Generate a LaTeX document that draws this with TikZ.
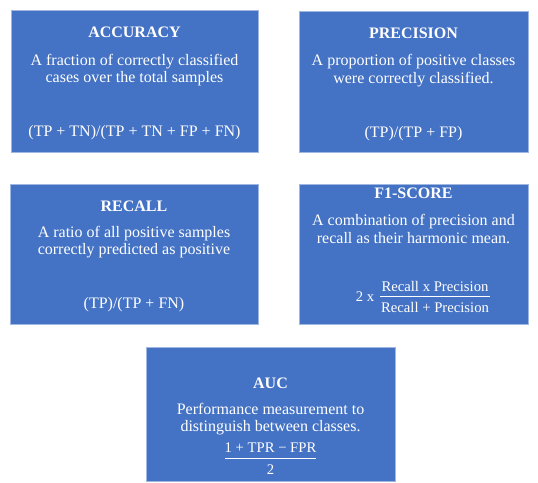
\documentclass[tikz,border=0pt]{standalone}
\usepackage{fontspec}
\setmainfont{Liberation Serif}
\begin{document}
\begin{tikzpicture}[x=1pt,y=-1pt,
  card/.style={draw={rgb,255:red,160;green,183;blue,226},line width=0.8pt,
    fill={rgb,255:red,68;green,114;blue,196},inner sep=0pt,anchor=north west},
  ttl/.style={text=white,font=\fontsize{16}{18}\selectfont\bfseries,anchor=base,inner sep=0pt},
  txt/.style={text=white,font=\fontsize{16}{18}\selectfont,anchor=base,inner sep=0pt},
  frm/.style={text=white,font=\fontsize{14.7}{17}\selectfont,anchor=base,inner sep=0pt},
  bar/.style={draw=white,line width=0.7pt}]
\useasboundingbox (0,0) rectangle (538,482);
\fill[white] (0,0) rectangle (538,482);
% boxes
\node[card,minimum width=247pt,minimum height=142pt] (acc) at (11,10) {};
\node[card,minimum width=229pt,minimum height=141pt] (pre) at (299,11) {};
\node[card,minimum width=248pt,minimum height=140pt] (rec) at (10,184) {};
\node[card,minimum width=229pt,minimum height=140pt] (f1) at (299,184) {};
\node[card,minimum width=249pt,minimum height=134pt] (auc) at (146,347) {};
% accuracy
\node[ttl] (acct) at (134.5,37) {ACCURACY};
\node[txt] (acc1) at (134.5,65) {A fraction of correctly classified};
\node[txt] (acc2) at (134.5,82) {cases over the total samples};
\node[txt] (accf) at (134.5,136) {(TP + TN)/(TP + TN + FP + FN)};
% precision
\node[ttl] (pret) at (413.5,38) {PRECISION};
\node[txt] (pre1) at (413.5,65) {A proportion of positive classes};
\node[txt] (pre2) at (413.5,83) {were correctly classified.};
\node[txt] (pref) at (413.5,137) {(TP)/(TP + FP)};
% recall
\node[ttl] (rect) at (134,211) {RECALL};
\node[txt] (rec1) at (134,237) {A ratio of all positive samples};
\node[txt] (rec2) at (134,254) {correctly predicted as positive};
\node[txt] (recf) at (134,308) {(TP)/(TP + FN)};
% f1
\node[ttl] (f1t) at (413.5,198) {F1-SCORE};
\node[txt] (f11) at (413.5,225) {A combination of precision and};
\node[txt] (f12) at (413.5,243) {recall as their harmonic mean.};
\node[frm] (f1two) at (365,301) {2 x};
\node[frm] (f1num) at (435,291) {Recall x Precision};
\node[frm] (f1den) at (435,312) {Recall + Precision};
\coordinate (f1bl) at (380,296.5);
\coordinate (f1br) at (490,296.5);
\draw[bar] (f1bl) -- (f1br);
% auc
\node[ttl] (auct) at (270.5,388) {AUC};
\node[txt] (auc1) at (270.5,414) {Performance measurement to};
\node[txt] (auc2) at (270.5,431) {distinguish between classes.};
\node[frm] (aucnum) at (270.5,452) {1 + TPR − FPR};
\node[frm] (aucden) at (270.5,474) {2};
\coordinate (aucbl) at (225,458);
\coordinate (aucbr) at (316,458);
\draw[bar] (aucbl) -- (aucbr);
\end{tikzpicture}
\end{document}
